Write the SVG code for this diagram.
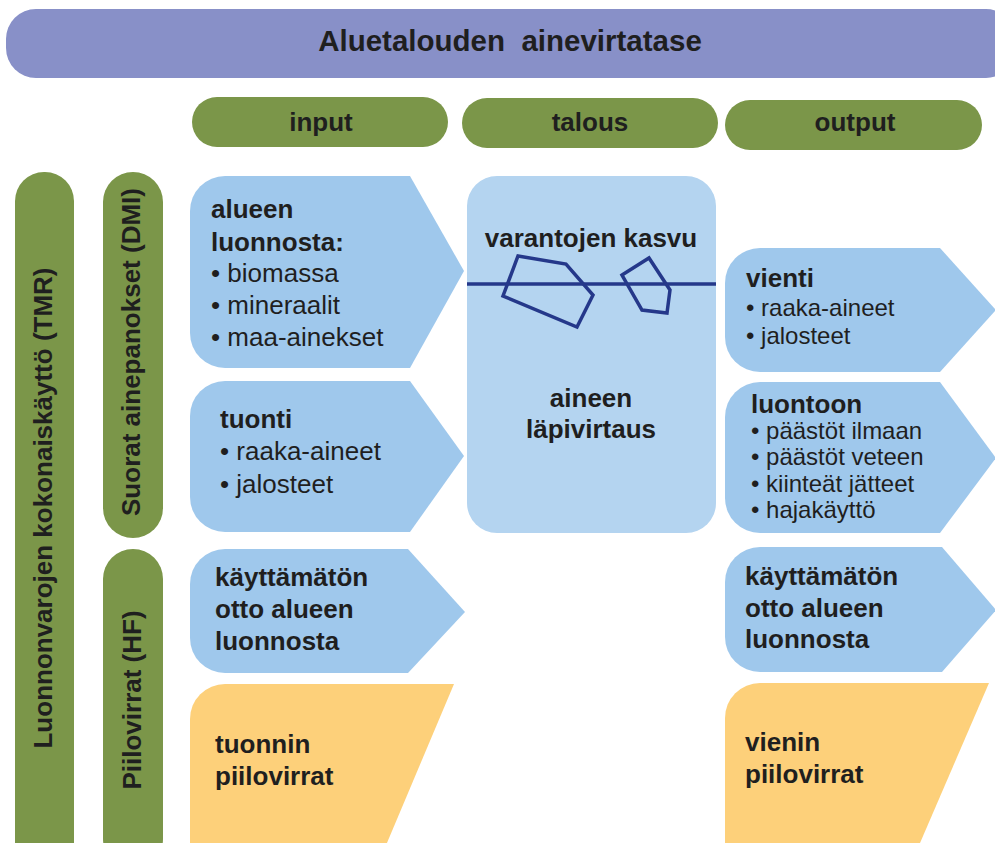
<svg xmlns="http://www.w3.org/2000/svg" width="995" height="843" viewBox="0 0 995 843">
<style>
.t{font-family:"Liberation Sans",Arial,sans-serif;fill:#1f1f1f;font-size:26px}
.b{font-weight:bold}
.s{font-size:24px}
.c{text-anchor:middle}
.green{fill:#7b9649}
.arrow{fill:#9fc8ec}
.orange{fill:#fdd07a}
.poly{fill:none;stroke:#25388a;stroke-width:3.5}
</style>
<rect width="995" height="843" fill="#ffffff"/>
<g id="title">
<rect x="6" y="9" width="1010" height="69" rx="30" fill="#8890c8"/>
<text class="t b c" x="510" y="51" style="font-size:29.5px">Aluetalouden&#160; ainevirtatase</text>
</g>
<g id="hdr-input"><rect class="green" x="192" y="97" width="256" height="50" rx="25"/><text class="t b c" x="321" y="131">input</text></g>
<g id="hdr-talous"><rect class="green" x="462" y="98" width="256" height="50" rx="25"/><text class="t b c" x="590" y="131">talous</text></g>
<g id="hdr-output"><rect class="green" x="725" y="100" width="257" height="50" rx="25"/><text class="t b c" x="855" y="131">output</text></g>
<g id="tmr"><rect class="green" x="15" y="172" width="59" height="700" rx="29"/><text class="t b c" transform="translate(52,508) rotate(-90)">Luonnonvarojen kokonaiskäyttö (TMR)</text></g>
<g id="dmi"><rect class="green" x="103" y="172" width="60" height="366" rx="30"/><text class="t b c" transform="translate(140,352) rotate(-90)">Suorat ainepanokset (DMI)</text></g>
<g id="hf"><rect class="green" x="103" y="549" width="60" height="320" rx="30"/><text class="t b c" transform="translate(141,700) rotate(-90)">Piilovirrat (HF)</text></g>
<g id="talous-box">
<rect x="467" y="176" width="249" height="357" rx="30" fill="#b4d4f0"/>
<text class="t b c" x="591" y="247">varantojen kasvu</text>
<line x1="467" y1="284" x2="716" y2="284" stroke="#25388a" stroke-width="3.5"/>
<polygon class="poly" points="518,256 566,264 593,295 577,327 503,296"/>
<polygon class="poly" points="622,275 649,258 670,290 667,313 642,310"/>
<text class="t b c" x="591" y="407">aineen</text>
<text class="t b c" x="591" y="438">läpivirtaus</text>
</g>
<g id="in-alueen">
<path class="arrow" d="M225,176 H410 L464,271 L410,368 H225 A35,35 0 0 1 190,333 V211 A35,35 0 0 1 225,176 Z"/>
<text class="t b" x="211" y="218">alueen</text>
<text class="t b" x="211" y="251">luonnosta:</text>
<text class="t" x="211" y="282">• biomassa</text>
<text class="t" x="211" y="314">• mineraalit</text>
<text class="t" x="211" y="346">• maa-ainekset</text>
</g>
<g id="in-tuonti">
<path class="arrow" d="M225,381 H410 L464,456 L410,532 H225 A35,35 0 0 1 190,497 V416 A35,35 0 0 1 225,381 Z"/>
<text class="t b" x="220" y="428">tuonti</text>
<text class="t" x="220" y="460">• raaka-aineet</text>
<text class="t" x="220" y="493">• jalosteet</text>
</g>
<g id="in-kayttamaton">
<path class="arrow" d="M225,549 H408 L465,612 L408,673 H225 A35,35 0 0 1 190,638 V584 A35,35 0 0 1 225,549 Z"/>
<text class="t b" x="215" y="586">käyttämätön</text>
<text class="t b" x="215" y="618">otto alueen</text>
<text class="t b" x="215" y="650">luonnosta</text>
</g>
<g id="in-piilo">
<path class="orange" d="M225,684 H454 L384,850 H190 V719 A35,35 0 0 1 225,684 Z"/>
<text class="t b" x="215" y="753">tuonnin</text>
<text class="t b" x="215" y="785">piilovirrat</text>
</g>
<g id="out-vienti">
<path class="arrow" d="M760,248 H940 L996,310 L940,372 H760 A35,35 0 0 1 725,337 V283 A35,35 0 0 1 760,248 Z"/>
<text class="t b" x="746" y="287">vienti</text>
<text class="t s" x="746" y="316">• raaka-aineet</text>
<text class="t s" x="746" y="344">• jalosteet</text>
</g>
<g id="out-luontoon">
<path class="arrow" d="M760,382 H940 L996,458 L940,533 H760 A35,35 0 0 1 725,498 V417 A35,35 0 0 1 760,382 Z"/>
<text class="t b" x="751" y="413">luontoon</text>
<text class="t s" x="751" y="439">• päästöt ilmaan</text>
<text class="t s" x="751" y="465">• päästöt veteen</text>
<text class="t s" x="751" y="492">• kiinteät jätteet</text>
<text class="t s" x="751" y="518">• hajakäyttö</text>
</g>
<g id="out-kayttamaton">
<path class="arrow" d="M760,547 H942 L996,610 L942,672 H760 A35,35 0 0 1 725,637 V582 A35,35 0 0 1 760,547 Z"/>
<text class="t b" x="745" y="585">käyttämätön</text>
<text class="t b" x="745" y="617">otto alueen</text>
<text class="t b" x="745" y="648">luonnosta</text>
</g>
<g id="out-piilo">
<path class="orange" d="M760,683 H989 L917,850 H725 V718 A35,35 0 0 1 760,683 Z"/>
<text class="t b" x="745" y="751">vienin</text>
<text class="t b" x="745" y="783">piilovirrat</text>
</g>
<g id="connectors"></g>
</svg>
